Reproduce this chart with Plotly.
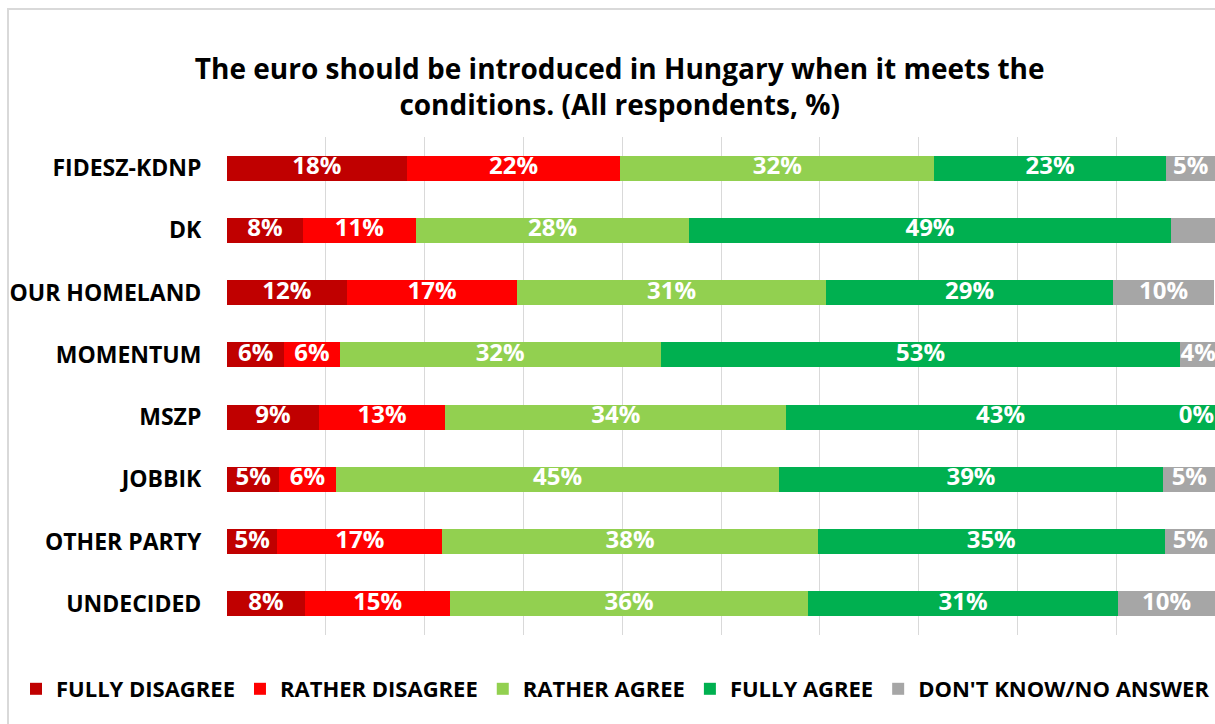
import plotly.graph_objects as go

categories = ["FIDESZ-KDNP", "DK", "OUR HOMELAND", "MOMENTUM", "MSZP", "JOBBIK", "OTHER PARTY", "UNDECIDED"]

fully_disagree = [18.2, 7.7, 12.1, 5.8, 9.3, 5.3, 5.1, 7.9]
rather_disagree = [21.6, 11.4, 17.3, 5.6, 12.8, 5.7, 16.7, 14.7]
rather_agree = [31.8, 27.7, 31.2, 32.5, 34.5, 44.9, 38.0, 36.2]
fully_agree = [23.4, 48.7, 29.1, 52.6, 43.4, 38.8, 35.1, 31.4]
dont_know = [5.1, 4.5, 10.2, 3.6, 0.0, 5.4, 5.2, 9.8]

series_names = ["FULLY DISAGREE", "RATHER DISAGREE", "RATHER AGREE", "FULLY AGREE", "DON'T KNOW/NO ANSWER"]
series_values = [fully_disagree, rather_disagree, rather_agree, fully_agree, dont_know]
series_colors = ["#C00000", "#FF0000", "#92D050", "#00B050", "#A6A6A6"]
# labels not shown in the original chart
hidden_labels = [("DON'T KNOW/NO ANSWER", "DK")]

title_text = "The euro should be introduced in Hungary when it meets the<br>conditions. (All respondents, %)"

FONT = "Open Sans"

fig = go.Figure()
for name, vals, color in zip(series_names, series_values, series_colors):
    fig.add_trace(go.Bar(
        y=categories, x=vals, name=name, orientation="h",
        marker=dict(color=color, line=dict(width=0)),
        hoverinfo="x+name",
    ))

# data labels as text marks placed at segment centres
starts = [0.0] * len(categories)
for name, vals in zip(series_names, series_values):
    xs, texts, positions = [], [], []
    for i, (cat, v) in enumerate(zip(categories, vals)):
        if v == 0:
            xs.append(starts[i] - 0.1)
            positions.append("middle left")
        else:
            xs.append(starts[i] + v / 2)
            positions.append("middle center")
        texts.append("" if (name, cat) in hidden_labels else f"{round(v)}%")
        starts[i] += v
    fig.add_trace(go.Scatter(
        x=xs, y=categories, mode="text", text=texts, textposition=positions,
        textfont=dict(family=FONT, size=24, color="white", weight="bold"),
        showlegend=False, hoverinfo="skip", cliponaxis=False,
    ))

W, H = 1215, 724
ML, MR, MT, MB = 227, 0, 137, 89
pw, ph = W - ML - MR, H - MT - MB

fig.update_layout(
    barmode="stack",
    width=W, height=H,
    margin=dict(l=ML, r=MR, t=MT, b=MB),
    paper_bgcolor="white", plot_bgcolor="white",
    bargap=0.6,
    title=dict(text=title_text, x=0.51, xanchor="center", y=1 - 79 / H, yanchor="middle",
               font=dict(family=FONT, size=28, color="black", weight="bold")),
    legend=dict(orientation="h", x=(20 - ML) / pw, xanchor="left", y=-54 / ph, yanchor="middle",
                font=dict(family=FONT, size=22, color="black", weight="bold"),
                traceorder="normal", itemwidth=30),
    showlegend=True,
)
fig.update_xaxes(range=[0, 100], dtick=10, showgrid=True, gridcolor="#D9D9D9", gridwidth=1,
                 showticklabels=False, zeroline=False, showline=False, fixedrange=True)
fig.update_yaxes(autorange="reversed", showgrid=False, ticks="outside", ticklen=20,
                 tickcolor="rgba(0,0,0,0)", showline=False,
                 tickfont=dict(family=FONT, size=23, color="black", weight="bold"))

fig.add_shape(type="rect", xref="paper", yref="paper",
              x0=(8 - ML) / pw, x1=1.05, y0=-0.3, y1=1 + (MT - 9) / ph,
              line=dict(color="#D9D9D9", width=2), fillcolor="rgba(0,0,0,0)", layer="below")

fig.write_html(
    "out.html",
    config={"displayModeBar": False},
    post_script="document.body.style.margin='0';document.documentElement.style.overflow='hidden';",
)
